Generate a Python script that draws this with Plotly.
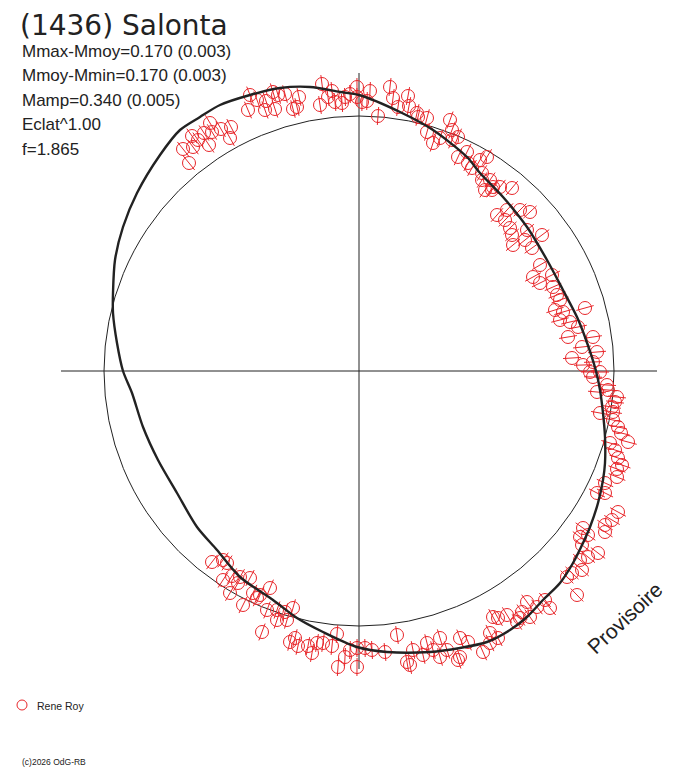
import numpy as np
import plotly.graph_objects as go

PAGE_W, PAGE_H = 688, 768
OFF = 8                          # default body margin of the html page
W, H = PAGE_W - OFF, PAGE_H - OFF
CX, CY = 359, 371                # page position of the polar origin
R_MEAN = 255                     # mean-magnitude reference circle
AXIS_LEN = 298
ERR = 9                          # half length of the radial error bars

POINTS_UPPER_LEFT = [(-149, 248), (-128, 244), (-138, 242), (-147, 239), (-155, 238), (-167, 235),
                     (-161, 231), (-129, 233), (-150, 226), (-166, 224), (-176, 222), (-170, 208)]
POINTS_TOP = [(-109, 276), (-111, 261), (-102, 271), (-93, 270), (-94, 261), (-86, 279), (-84, 262),
              (-81, 276), (-74, 277), (-66, 262), (-62, 264), (-60, 274), (-39, 266), (-37, 287),
              (-27, 280), (-31, 274), (-24, 269), (-17, 268), (-14, 274), (-9, 277), (-2, 284),
              (-2, 274), (3, 269), (8, 270), (11, 280), (19, 255), (31, 284), (34, 273), (39, 264),
              (49, 275), (50, 265), (58, 258), (59, 254), (68, 253), (68, 239), (74, 228), (81, 233),
              (91, 251), (93, 241), (99, 234), (93, 231), (99, 214), (108, 219), (109, 208),
              (121, 211), (128, 214), (113, 203), (123, 198), (123, 191), (131, 191), (134, 184),
              (141, 184), (153, 183), (126, 181), (133, 181)]
POINTS_UPPER_RIGHT = [(138, 156), (148, 161), (161, 161), (171, 159), (146, 151), (151, 143),
                      (168, 141), (153, 136), (166, 131), (183, 136), (154, 126), (173, 123),
                      (181, 106), (174, 94), (181, 88), (193, 96), (194, 84), (198, 76), (201, 71),
                      (226, 63), (196, 61), (204, 59), (201, 51), (211, 49), (219, 44), (209, 34),
                      (234, 34)]
POINTS_RIGHT = [(223, 24), (238, 19), (213, 13), (224, 6), (234, 9), (231, -1), (241, -1), (234, -6),
                (248, -14), (238, -21), (249, -19), (258, -26), (256, -31), (253, -36), (241, -42),
                (254, -41), (254, -49), (259, -56), (262, -62), (269, -71), (251, -72), (256, -79),
                (259, -87), (263, -94), (258, -98), (258, -106), (246, -112), (238, -122),
                (246, -122), (259, -141), (253, -149), (246, -154), (224, -157), (246, -161),
                (221, -166), (229, -164), (223, -174), (239, -182), (229, -186), (221, -189),
                (223, -199), (208, -206), (213, -202), (218, -224), (186, -229)]
POINTS_LOWER_RIGHT = [(168, -231), (178, -236), (191, -237), (163, -241), (134, -246), (139, -247),
                      (148, -244), (161, -247), (171, -246), (158, -251), (38, -264), (81, -267),
                      (131, -262), (101, -267), (109, -271), (68, -272), (139, -267), (131, -272),
                      (54, -279), (74, -279), (64, -284), (81, -286), (124, -281), (101, -286),
                      (99, -289), (26, -281), (48, -291), (51, -294), (88, -279)]
POINTS_LOWER_LEFT = [(-147, -191), (-136, -189), (-132, -192), (-136, -209), (-127, -205),
                     (-119, -206), (-109, -207), (-121, -212), (-129, -222), (-106, -222),
                     (-99, -224), (-89, -217), (-102, -227), (-116, -234), (-92, -239), (-82, -239),
                     (-74, -241), (-66, -237), (-82, -249), (-72, -249), (-97, -261), (-69, -271),
                     (-64, -267), (-61, -275), (-51, -275), (-42, -272), (-36, -272), (-47, -282),
                     (-27, -275), (-22, -263), (-9, -279), (-2, -277), (6, -277), (13, -279),
                     (-14, -286), (-21, -296), (-2, -296)]

# fitted light curve (counter-clockwise from phase 0)
CURVE = [(237, 0), (226, 34), (218, 54), (204, 81), (188, 111), (168, 144), (144, 174), (121, 198),
         (108, 214), (74, 241), (41, 259), (0, 276), (-19, 279), (-49, 284), (-79, 283), (-109, 276),
         (-139, 266), (-159, 254), (-179, 241), (-199, 216), (-222, 178), (-236, 144), (-244, 111),
         (-246, 78), (-246, 58), (-242, 28), (-236, 0), (-227, -22), (-216, -56), (-201, -89),
         (-182, -122), (-162, -156), (-142, -179), (-119, -206), (-86, -229), (-62, -247),
         (-36, -261), (-2, -276), (28, -281), (71, -281), (101, -277), (128, -271), (151, -259),
         (168, -246), (184, -229), (201, -212), (214, -192), (224, -172), (231, -156), (239, -132),
         (244, -109), (246, -92), (246, -66), (244, -42), (241, -19)]

TITLE = "(1436) Salonta"
INFO = ["Mmax-Mmoy=0.170 (0.003)", "Mmoy-Mmin=0.170 (0.003)", "Mamp=0.340 (0.005)",
        "Eclat^1.00", "f=1.865"]

RED = "rgb(232,38,42)"
INK = "#222222"
ARIAL = "Liberation Sans, Arial"


def px_x(x):
    return (x - OFF) / W


def px_y(y):
    return 1 - (y - OFF) / H


pts = np.array(POINTS_UPPER_LEFT + POINTS_TOP + POINTS_UPPER_RIGHT + POINTS_RIGHT
               + POINTS_LOWER_RIGHT + POINTS_LOWER_LEFT, dtype=float)
px, py = pts[:, 0], pts[:, 1]
rr = np.hypot(px, py)
ux, uy = px / rr, py / rr

# radial error bars as one broken line
ex, ey = [], []
for x, y, a, b in zip(px, py, ux, uy):
    ex += [x - ERR * a, x + ERR * a, None]
    ey += [y - ERR * b, y + ERR * b, None]

cx = [p[0] for p in CURVE] + [CURVE[0][0]]
cy = [p[1] for p in CURVE] + [CURVE[0][1]]

fig = go.Figure()
fig.add_trace(go.Scatter(x=ex, y=ey, mode="lines", line=dict(color=RED, width=1),
                         hoverinfo="skip", showlegend=False))
fig.add_trace(go.Scatter(x=px, y=py, mode="markers",
                         marker=dict(symbol="circle-open", size=13, color=RED, line=dict(width=1)),
                         showlegend=False))
fig.add_trace(go.Scatter(x=cx, y=cy, mode="lines",
                         line=dict(color=INK, width=2.4, shape="spline", smoothing=0.8),
                         showlegend=False))

shapes = [
    dict(type="circle", xref="x", yref="y", x0=-R_MEAN, x1=R_MEAN, y0=-R_MEAN, y1=R_MEAN,
         line=dict(color=INK, width=1), layer="below"),
    dict(type="line", xref="x", yref="y", x0=-AXIS_LEN, x1=AXIS_LEN, y0=0, y1=0,
         line=dict(color=INK, width=1), layer="below"),
    dict(type="line", xref="x", yref="y", x0=0, x1=0, y0=-AXIS_LEN, y1=AXIS_LEN,
         line=dict(color=INK, width=1), layer="below"),
    dict(type="circle", xref="paper", yref="paper", x0=px_x(17), x1=px_x(27),
         y0=px_y(710), y1=px_y(700), line=dict(color=RED, width=1)),
]

annotations = []
for i, line in enumerate(INFO):
    annotations.append(dict(text=line, x=px_x(20), y=px_y(51 + 24.6 * i), xref="paper",
                            yref="paper", xanchor="left", yanchor="middle", showarrow=False,
                            font=dict(family=ARIAL, size=17, color=INK)))
annotations += [
    dict(text="Rene Roy", x=px_x(35), y=px_y(706), xref="paper", yref="paper", xanchor="left",
         yanchor="middle", showarrow=False, font=dict(family=ARIAL, size=10.5, color=INK)),
    dict(text="(c)2026 OdG-RB", x=px_x(20), y=px_y(762), xref="paper", yref="paper",
         xanchor="left", yanchor="middle", showarrow=False,
         font=dict(family=ARIAL, size=8.5, color=INK)),
    dict(text="Provisoire", x=px_x(624), y=px_y(618), xref="paper", yref="paper",
         xanchor="center", yanchor="middle", showarrow=False, textangle=-43,
         font=dict(family=ARIAL, size=21, color=INK)),
]

fig.update_layout(
    width=W, height=H, margin=dict(l=0, r=0, t=0, b=0),
    paper_bgcolor="white", plot_bgcolor="white",
    title=dict(text=TITLE, x=px_x(20), xanchor="left", xref="container",
               y=px_y(25), yanchor="middle", yref="container",
               font=dict(family="DejaVu Sans", size=28, color=INK)),
    xaxis=dict(range=[-(CX - OFF), W - (CX - OFF)], visible=False, fixedrange=True),
    yaxis=dict(range=[(CY - OFF) - H, CY - OFF], visible=False, fixedrange=True),
    shapes=shapes, annotations=annotations, showlegend=False,
)

fig.write_html("out.html")
